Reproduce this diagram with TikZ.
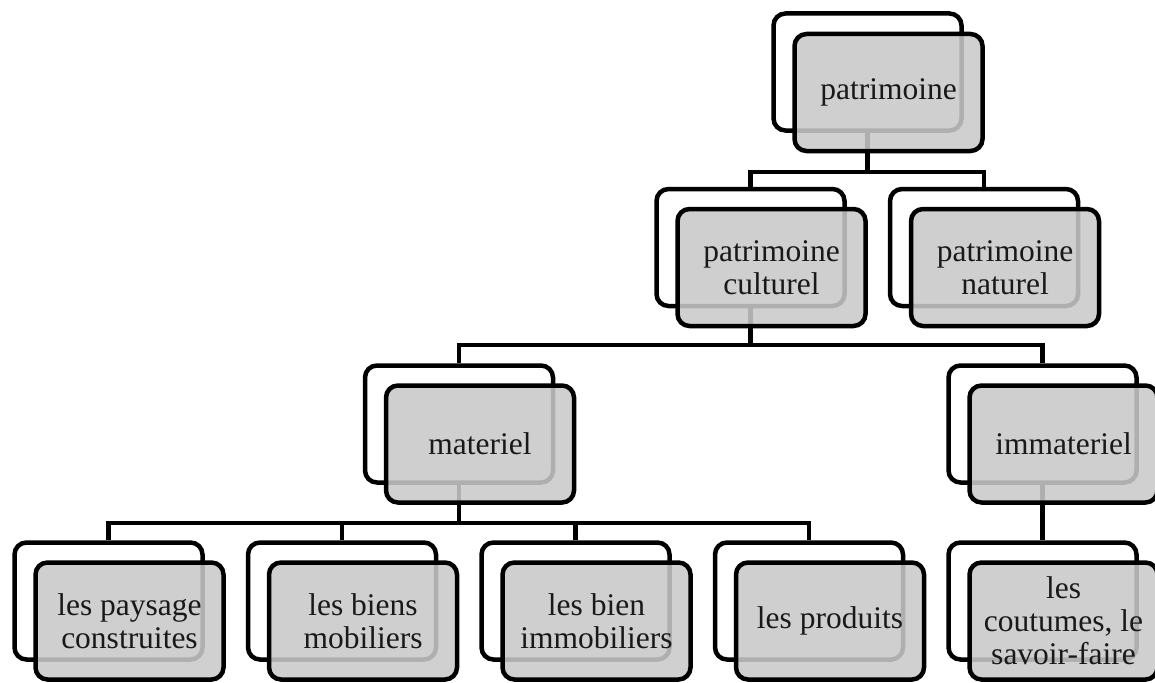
\documentclass[tikz,border=0pt]{standalone}
\usepackage{fontspec}
\setmainfont{Liberation Serif}
\definecolor{frontgray}{RGB}{201,201,201}
\begin{document}
\begin{tikzpicture}[x=1pt,y=-1pt,
  backbox/.style={draw=black, line width=4.5pt, rounded corners=12pt, fill=white,
    minimum width=188pt, minimum height=117pt, inner sep=0pt},
  frontbox/.style={draw=black, line width=4.5pt, rounded corners=12pt,
    fill=frontgray, fill opacity=0.875, text opacity=1, draw opacity=1,
    minimum width=188pt, minimum height=117pt, inner sep=0pt, align=center,
    font=\fontsize{31.5}{33}\selectfont, text=black!90},
  conn/.style={draw=black, line width=4.5pt}]
\useasboundingbox (0,0) rectangle (1155,682);

% back boxes
\node[backbox] (pB) at (867.5,72) {};
\node[backbox] (cB) at (750.5,247.5) {};
\node[backbox] (nB) at (984,247.5) {};
\node[backbox] (mB) at (459,424) {};
\node[backbox] (iB) at (1042.5,424) {};
\node[backbox] (b1B) at (108.5,601) {};
\node[backbox] (b2B) at (342,601) {};
\node[backbox] (b3B) at (575.5,601) {};
\node[backbox] (b4B) at (809,601) {};
\node[backbox] (b5B) at (1042.5,601) {};

% helper coordinates for the horizontal bars
\coordinate (h1) at (0,172);
\coordinate (h2) at (0,345);
\coordinate (h3) at (0,523);

% connectors
\draw[conn] (pB.south) -- (pB.south |- h1);
\draw[conn] (cB.north) -- (cB.north |- h1) -- (nB.north |- h1) -- (nB.north);
\draw[conn] (cB.south) -- (cB.south |- h2);
\draw[conn] (mB.north) -- (mB.north |- h2) -- (iB.north |- h2) -- (iB.north);
\draw[conn] (mB.south) -- (mB.south |- h3);
\draw[conn] (b1B.north) -- (b1B.north |- h3) -- (b4B.north |- h3) -- (b4B.north);
\draw[conn] (b2B.north) -- (b2B.north |- h3);
\draw[conn] (b3B.north) -- (b3B.north |- h3);
\draw[conn] (iB.south) -- (b5B.north);

% front boxes
\node[frontbox] (pF) at (888.5,92.5) {patrimoine};
\node[frontbox] (cF) at (771.5,267.5) {patrimoine\\culturel};
\node[frontbox] (nF) at (1005,267.5) {patrimoine\\naturel};
\node[frontbox] (mF) at (480,444) {materiel};
\node[frontbox] (iF) at (1063.5,444) {immateriel};
\node[frontbox] (b1F) at (129.5,621) {les paysage\\construites};
\node[frontbox] (b2F) at (363,621) {les biens\\mobiliers};
\node[frontbox] (b3F) at (596.5,621) {les bien\\immobiliers};
\node[frontbox] (b4F) at (830,621) {les produits};
\node[frontbox] (b5F) at (1063.5,621) {les\\coutumes, le\\savoir-faire};
\end{tikzpicture}
\end{document}
